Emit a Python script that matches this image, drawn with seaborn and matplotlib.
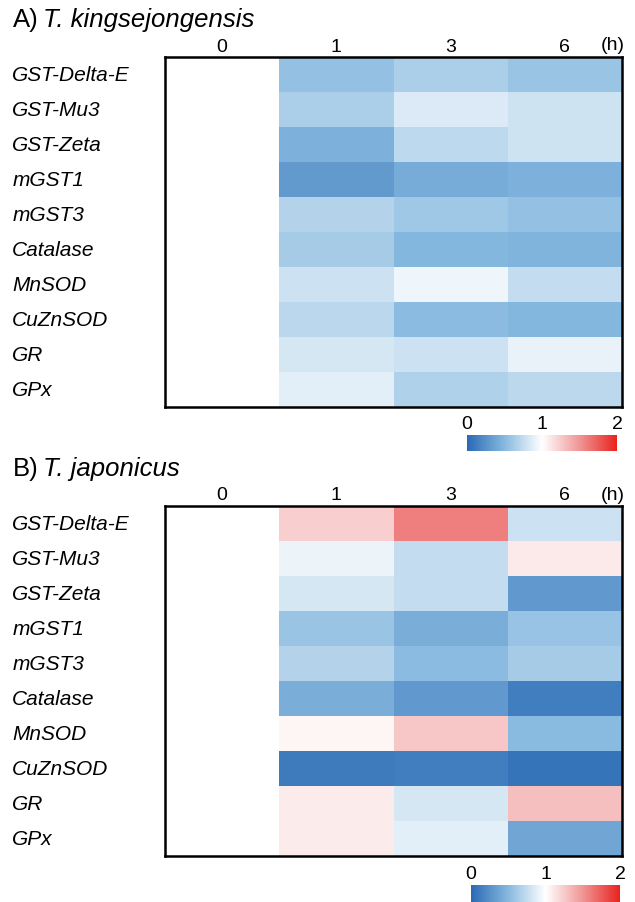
import numpy as np
import seaborn as sns
import matplotlib.pyplot as plt
from matplotlib.colors import LinearSegmentedColormap

# relative expression (fold change vs 0 h)
genes = ["GST-Delta-E", "GST-Mu3", "GST-Zeta", "mGST1", "mGST3",
         "Catalase", "MnSOD", "CuZnSOD", "GR", "GPx"]
times = ["0", "1", "3", "6"]

kingsejongensis_1h = [0.56, 0.65, 0.45, 0.31, 0.69, 0.63, 0.79, 0.71, 0.83, 0.88]
kingsejongensis_3h = [0.65, 0.85, 0.73, 0.42, 0.60, 0.49, 0.93, 0.52, 0.79, 0.67]
kingsejongensis_6h = [0.58, 0.80, 0.80, 0.45, 0.56, 0.47, 0.75, 0.49, 0.91, 0.72]

japonicus_1h = [1.23, 0.92, 0.83, 0.58, 0.69, 0.43, 1.05, 0.11, 1.09, 1.09]
japonicus_3h = [1.60, 0.75, 0.75, 0.43, 0.52, 0.30, 1.27, 0.13, 0.83, 0.88]
japonicus_6h = [0.79, 1.10, 0.30, 0.57, 0.63, 0.13, 0.51, 0.07, 1.30, 0.38]

# odd N so that fold change 1 lands exactly on white
cmap = LinearSegmentedColormap.from_list(
    "bwr_custom", ["#2a6ab4", "#87b9df", "#ffffff", "#f09696", "#e8231e"], N=257)

plt.rcParams["font.family"] = ["Liberation Sans", "DejaVu Sans"]

W, H = 635, 903
fig = plt.figure(figsize=(W / 100, H / 100), dpi=100)


def px_axes(x0, y0, x1, y1):
    return fig.add_axes([x0 / W, 1 - y1 / H, (x1 - x0) / W, (y1 - y0) / H])


panels = [
    ("A)", "T. kingsejongensis", [kingsejongensis_1h, kingsejongensis_3h, kingsejongensis_6h],
     (165, 58, 622, 408), (467, 436, 617, 452), 20),
    ("B)", "T. japonicus", [japonicus_1h, japonicus_3h, japonicus_6h],
     (165, 507, 622, 857), (471, 886, 620, 903), 469),
]

for letter, species, cols, box, cbox, title_y in panels:
    mat = np.column_stack([np.ones(len(genes))] + [np.array(c) for c in cols])
    ax = px_axes(*box)
    cax = px_axes(*cbox)
    sns.heatmap(mat, ax=ax, cmap=cmap, vmin=0, vmax=2, cbar_ax=cax,
                cbar_kws={"orientation": "horizontal", "ticks": [0, 1, 2]},
                xticklabels=times, yticklabels=genes)

    for sp in ax.spines.values():
        sp.set_visible(True)
        sp.set_color("black")
        sp.set_linewidth(1.8)

    ax.tick_params(axis="x", top=True, labeltop=True, bottom=False, labelbottom=False,
                   length=0, pad=1.8, labelsize=14)
    ax.tick_params(axis="y", length=0, pad=110, labelsize=15)
    for lab in ax.get_yticklabels():
        lab.set_ha("left")
        lab.set_style("italic")
        lab.set_rotation(0)
    for lab in ax.get_xticklabels():
        lab.set_rotation(0)

    cbar = ax.collections[0].colorbar
    cbar.outline.set_visible(False)
    cax.xaxis.set_ticks_position("top")
    cax.tick_params(axis="x", length=0, pad=2, labelsize=14)

    # "(h)" unit next to the time labels
    fig.text(613 / W, 1 - (box[1] - 12) / H, "(h)", ha="center", va="center", fontsize=14)

    fig.text(13 / W, 1 - title_y / H, letter, ha="left", va="center", fontsize=18.5)
    fig.text(43 / W, 1 - title_y / H, species, ha="left", va="center", fontsize=18.5,
             style="italic")

fig.savefig("out.png", dpi=100)
